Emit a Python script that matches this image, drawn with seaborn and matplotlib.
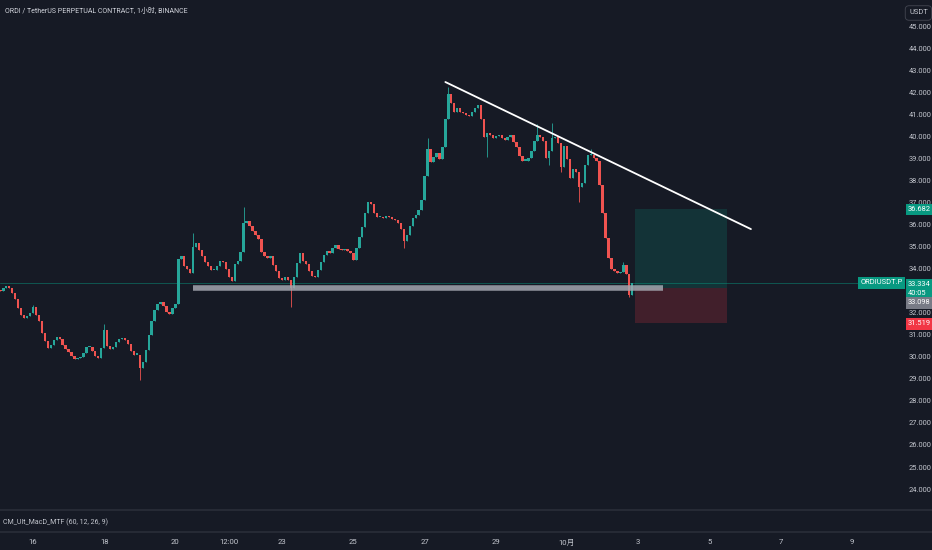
import numpy as np
import pandas as pd
import matplotlib
matplotlib.use("Agg")
import matplotlib.pyplot as plt
import seaborn as sns
from matplotlib.lines import Line2D
from matplotlib.transforms import blended_transform_factory

# ---------------- data ----------------
title = "ORDI / TetherUS PERPETUAL CONTRACT, 1小时, BINANCE"
indicator = "CM_Ult_MacD_MTF (60, 12, 26, 9)"
symbol = "ORDIUSDT.P"
currency = "USDT"

start_hour = -22      # hours relative to 16 Sep 00:00
step_hours = 2
first_open = 33.05
closes = [
    33.0, 33.1, 33.2, 33.1, 32.9, 32.6, 32.2, 31.9, 31.75, 31.85,
    32.0, 32.25, 31.9, 31.6, 31.1, 30.7, 30.4, 30.55, 30.75, 30.9,
    30.8, 30.55, 30.35, 30.2, 30.05, 29.9, 29.95, 30.0, 30.15, 30.45,
    30.45, 30.25, 30.05, 29.95, 30.4, 31.2, 30.5, 30.35, 30.45, 30.65,
    30.8, 30.85, 30.75, 30.6, 30.25, 30.1, 30.1, 29.5, 29.75, 30.3,
    31.0, 31.6, 32.1, 32.4, 32.5, 32.3, 32.05, 31.95, 32.2, 32.4,
    34.45, 34.55, 34.1, 34.0, 33.8, 35.0, 35.15, 34.85, 34.55, 34.3,
    34.1, 33.95, 33.95, 34.1, 34.35, 34.3, 34.0, 33.6, 33.45, 34.2,
    34.35, 34.75, 36.05, 36.15, 35.95, 35.7, 35.5, 35.35, 34.75, 34.55,
    34.5, 34.55, 34.15, 33.9, 33.55, 33.5, 33.6, 33.5, 33.1, 33.6,
    34.25, 34.7, 34.35, 34.2, 33.9, 33.65, 33.6, 33.95, 34.3, 34.6,
    34.8, 34.7, 34.95, 35.05, 34.9, 34.85, 34.9, 34.8, 34.7, 34.4,
    34.95, 35.45, 35.9, 36.5, 37.0, 36.95, 36.5, 36.35, 36.35, 36.3,
    36.4, 36.35, 36.25, 36.2, 36.05, 35.8, 35.25, 35.5, 35.95, 36.3,
    36.45, 36.65, 37.1, 38.2, 39.4, 38.85, 39.05, 39.25, 38.95, 39.5,
    40.8, 41.9, 41.5, 41.1, 41.3, 41.1, 41.05, 40.95, 40.9, 41.1,
    41.3, 41.4, 40.8, 39.95, 40.15, 40.05, 39.9, 40.0, 40.05, 39.9,
    39.85, 39.95, 40.05, 39.75, 39.5, 39.1, 38.9, 38.9, 39.0, 39.35,
    39.8, 40.05, 39.95, 39.8, 39.0, 39.35, 39.9, 39.95, 39.7, 38.6,
    39.55, 38.95, 38.1, 38.5, 38.4, 37.7, 37.9, 38.7, 39.15, 39.15,
    39.0, 38.9, 37.8, 36.5, 35.4, 34.5, 34.0, 33.9, 33.8, 33.85,
    34.15, 33.75, 32.8, 33.334,
]
spike_highs = {11: 32.35, 35: 31.5, 65: 35.6, 82: 36.8, 144: 39.9,
               151: 42.25, 181: 40.55, 186: 40.6, 199: 39.4, 210: 34.3}
spike_lows = {47: 28.95, 98: 32.25, 136: 34.95, 164: 39.05, 185: 38.7,
              189: 38.4, 195: 37.0, 212: 32.7}

tick_hours = [0, 48, 96, 132, 168, 216, 264, 312, 360, 408, 456, 504, 552]
tick_labels = ["16", "18", "20", "12:00", "23", "25", "27", "29", "10月",
               "3", "5", "7", "9"]
price_ticks = [p for p in range(24, 46) if p != 33]

last_price = 33.334
countdown = "40:05"
level_price = 33.098
level_span = [108, 425]
trend_hours = [278, 484]
trend_prices = [42.46, 35.79]
pos_span = [406, 468]
pos_entry = 33.098
pos_target = 36.682
pos_stop = 31.519

# ---------------- style ----------------
bg = "#161a25"
up = "#26a69a"
down = "#ef5350"
txt = "#c3c6ce"
sep = "#2a2e39"
fs = 5.4

sns.set_theme(style="dark", rc={"axes.facecolor": bg, "figure.facecolor": bg,
                                "axes.grid": False})
plt.rcParams["font.family"] = ["Roboto", "Noto Sans CJK SC", "DejaVu Sans"]

W, H = 932, 550
fig = plt.figure(figsize=(W / 100, H / 100), dpi=100)
ax = fig.add_axes([0, 40 / H, 900 / W, 510 / H])
ax_ind = fig.add_axes([0, 18 / H, 900 / W, 22 / H], sharex=ax)
for a in (ax, ax_ind):
    a.set_facecolor(bg)
    for s in a.spines.values():
        s.set_visible(False)

# ---------------- candles ----------------
df = pd.DataFrame({"close": closes})
df["t"] = start_hour + step_hours * np.arange(len(df))
df["open"] = df["close"].shift(1).fillna(first_open)
df["high"] = df[["open", "close"]].max(axis=1)
df["low"] = df[["open", "close"]].min(axis=1)
for i, v in spike_highs.items():
    df.loc[i, "high"] = v
for i, v in spike_lows.items():
    df.loc[i, "low"] = v
df["color"] = np.where(df["close"] >= df["open"], up, down)
body_lo = df[["open", "close"]].min(axis=1)
body_h = (df["close"] - df["open"]).abs().clip(lower=0.05)

ax.vlines(df["t"], df["low"], df["high"], colors=df["color"], lw=0.6, zorder=3)
ax.bar(df["t"], body_h, bottom=body_lo, width=1.6, color=df["color"],
       linewidth=0, zorder=3)

# position box
ax.fill_between(pos_span, pos_entry, pos_target, color="#089981", alpha=0.2,
                lw=0, zorder=1)
ax.fill_between(pos_span, pos_stop, pos_entry, color="#f23645", alpha=0.2,
                lw=0, zorder=1)

# current price line
ax.axhline(last_price, color="#089981", lw=0.6, alpha=0.55, zorder=2)
# horizontal level
ax.hlines(level_price, level_span[0], level_span[1], color="#a3a6af",
          lw=4.0, alpha=0.85, zorder=4)
# trend line
sns.lineplot(x=trend_hours, y=trend_prices, ax=ax, color="white", lw=1.3,
             zorder=5)

ax.set_xlim(-22.25, 584.5)
ax.set_ylim(23.05, 46.18)
ax.yaxis.tick_right()
ax.set_yticks(price_ticks)
ax.set_yticklabels([f"{p:.3f}" for p in price_ticks])
ax.tick_params(axis="y", length=0, pad=6, labelsize=fs, colors=txt)
ax.tick_params(axis="x", length=0, labelbottom=False)

ax_ind.set_yticks([])
ax_ind.set_xticks(tick_hours)
ax_ind.set_xticklabels(tick_labels)
ax_ind.tick_params(axis="x", length=0, pad=5, labelsize=5.6, colors=txt)

# ---------------- labels ----------------
tr = blended_transform_factory(ax.transAxes, ax.transData)
def tag(y, s, fc, ha="left", x=908 / 900, color="white"):
    ax.text(x, y, s, transform=tr, ha=ha, va="center", fontsize=fs,
            color=color, clip_on=False, zorder=10, linespacing=1.35,
            bbox=dict(boxstyle="square,pad=0.32", fc=fc, ec="none"))

tag(pos_target, f"{pos_target:.3f}", "#089981")
tag(33.07, f"{last_price:.3f}\n{countdown}", "#089981")
tag(32.44, f"{level_price:.3f}", "#787b86")
tag(pos_stop - 0.03, f"{pos_stop:.3f}", "#f23645")
tag(last_price + 0.02, symbol, "#089981", ha="right", x=903 / 900)

fig.text(909 / W, 1 - 13 / H, currency, fontsize=fs, color=txt, ha="left",
         va="center", bbox=dict(boxstyle="round,pad=0.5", fc=bg, ec="#434651", lw=0.6))
fig.text(5 / W, 1 - 12 / H, title, fontsize=5.0, color="#d1d4dc", ha="left",
         va="center")
fig.text(3 / W, 1 - 522 / H, indicator, fontsize=5.0, color=txt, ha="left",
         va="center")

for yy in (40 / H, 18 / H):
    fig.add_artist(Line2D([0, 1], [yy, yy], transform=fig.transFigure,
                          color=sep, lw=1.2))

fig.savefig("out.png", dpi=100, facecolor=bg)
